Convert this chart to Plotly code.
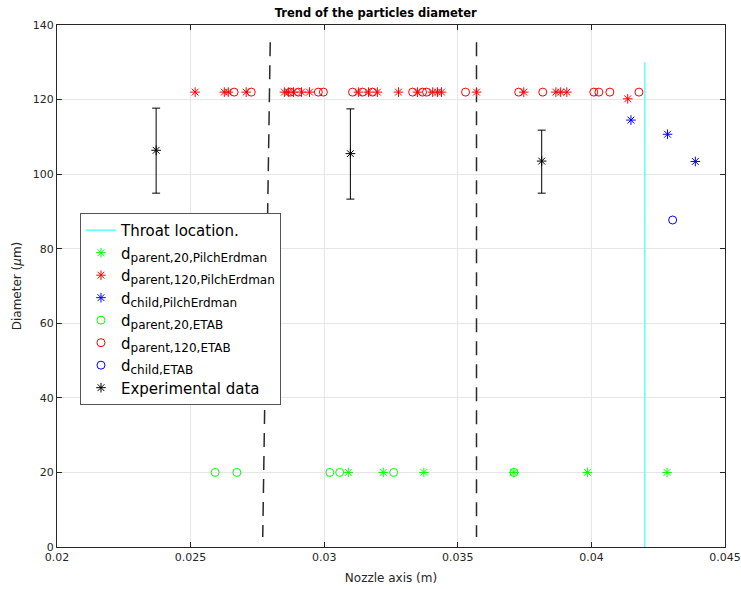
import plotly.graph_objects as go

# ---- data ----
red_star_x = [0.02517, 0.02626, 0.02641, 0.02708, 0.02851, 0.02866, 0.02885, 0.02915, 0.02945,
              0.03128, 0.03166, 0.03199, 0.03278, 0.03349, 0.03406, 0.03424, 0.03439, 0.03570,
              0.03747, 0.03867, 0.03885, 0.03908, 0.04136]
red_star_y = [122] * 22 + [120.2]
red_circ_x = [0.02663, 0.02727, 0.02873, 0.02903, 0.02978, 0.02997, 0.03106, 0.03143, 0.03181,
              0.03331, 0.03368, 0.03383, 0.03529, 0.03728, 0.03818, 0.04009, 0.04028, 0.04069, 0.04178]
red_circ_y = [122] * 19
green_star_x = [0.03090, 0.03221, 0.03373, 0.03710, 0.03985, 0.04283]
green_star_y = [20] * 6
green_circ_x = [0.02592, 0.02673, 0.03021, 0.03058, 0.03260, 0.03710]
green_circ_y = [20] * 6
blue_star_x = [0.04148, 0.04285, 0.04389]
blue_star_y = [114.5, 110.7, 103.4]
blue_circ_x = [0.04304]
blue_circ_y = [87.7]
exp_x = [0.02371, 0.03098, 0.03814]
exp_y = [106.4, 105.5, 103.5]
exp_top = [117.7, 117.5, 111.8]
exp_bot = [94.9, 93.3, 94.9]
throat_x = [0.042, 0.042]
throat_y = [0, 130]
dash1_x = [0.02798, 0.02770]
dash2_x = [0.03570, 0.03570]
dash_y = [135.4, 2.7]

FONT = "DejaVu Sans"
fig = go.Figure()

for dx in (dash1_x, dash2_x):
    fig.add_trace(go.Scatter(x=dx, y=dash_y, mode="lines", showlegend=False,
                             line=dict(color="#2a2a2a", width=1.5, dash="14px,9px")))

fig.add_trace(go.Scatter(x=throat_x, y=throat_y, mode="lines", name="Throat location.",
                         line=dict(color="#5cffff", width=1.5)))


def sub_name(s):
    return "d<sub><span style='font-size:12px'>" + s + "</span></sub>"


def mk(x, y, sym, col, name):
    fig.add_trace(go.Scatter(x=x, y=y, mode="markers", name=sub_name(name),
                             marker=dict(symbol=sym, size=8, color=col,
                                         line=dict(color=col, width=1))))

mk(green_star_x, green_star_y, "asterisk-open", "#00ff00", "parent,20,PilchErdman")
mk(red_star_x, red_star_y, "asterisk-open", "#ff0000", "parent,120,PilchErdman")
mk(blue_star_x, blue_star_y, "asterisk-open", "#0000ff", "child,PilchErdman")
mk(green_circ_x, green_circ_y, "circle-open", "#00ff00", "parent,20,ETAB")
mk(red_circ_x, red_circ_y, "circle-open", "#ff0000", "parent,120,ETAB")
mk(blue_circ_x, blue_circ_y, "circle-open", "#0000ff", "child,ETAB")

fig.add_trace(go.Scatter(
    x=exp_x, y=exp_y, mode="markers", name="Experimental data",
    marker=dict(symbol="asterisk-open", size=8, color="black", line=dict(color="black", width=1)),
    error_y=dict(type="data", symmetric=False,
                 array=[t - c for t, c in zip(exp_top, exp_y)],
                 arrayminus=[c - b for c, b in zip(exp_y, exp_bot)],
                 color="black", thickness=1, width=4)))

axis_common = dict(showline=True, linecolor="#262626", linewidth=1, mirror="ticks",
                   ticks="inside", ticklen=5, tickcolor="#262626", automargin=False,
                   showgrid=True, gridcolor="#e6e6e6", gridwidth=1, zeroline=False,
                   tickfont=dict(family=FONT, size=11, color="#262626"))

fig.update_xaxes(range=[0.02, 0.045], tickvals=[0.02, 0.025, 0.03, 0.035, 0.04, 0.045],
                 ticktext=["0.02", "0.025", "0.03", "0.035", "0.04", "0.045"],
                 title=dict(text="Nozzle axis (m)", font=dict(family=FONT, size=12, color="#262626"),
                            standoff=10),
                 **axis_common)
fig.update_yaxes(range=[0, 140], tickvals=list(range(0, 141, 20)),
                 title=dict(text="Diameter (<i>μ</i>m)", font=dict(family=FONT, size=12, color="#262626"),
                            standoff=8),
                 **axis_common)

fig.update_layout(
    width=741, height=589,
    margin=dict(l=57, r=16, t=25, b=42),
    paper_bgcolor="white", plot_bgcolor="white",
    title=dict(text="<b>Trend of the particles diameter</b>", x=0.507, xanchor="center",
               y=0.985, yanchor="top", font=dict(family=FONT, size=11.5, color="black")),
    legend=dict(x=0.0344, y=0.64, xanchor="left", yanchor="top",
                bgcolor="white", bordercolor="#555555", borderwidth=1,
                font=dict(family=FONT, size=15, color="black"),
                tracegroupgap=0, itemwidth=30),
    showlegend=True,
)

fig.write_html("out.html")
